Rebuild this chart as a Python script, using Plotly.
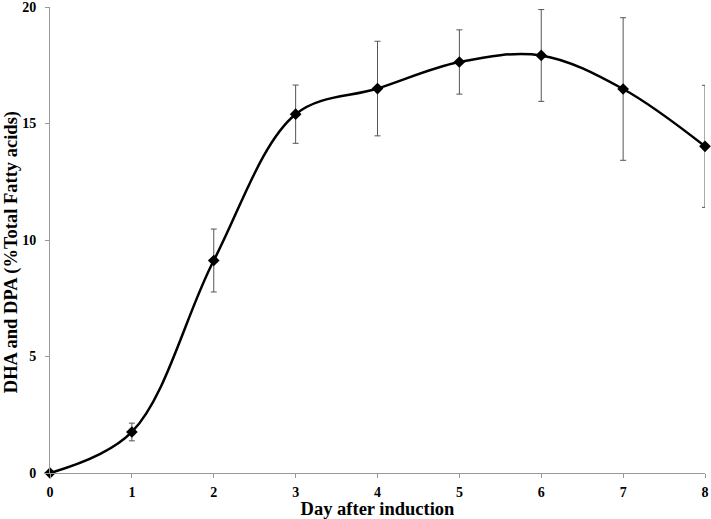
import plotly.graph_objects as go

days = [0, 1, 2, 3, 4, 5, 6, 7, 8]
dha_dpa = [0.0, 1.76, 9.12, 15.4, 16.5, 17.64, 17.92, 16.48, 14.02]
err = [0.0, 0.38, 1.35, 1.25, 2.03, 1.38, 1.97, 3.06, 2.62]
x_ticks = [0, 1, 2, 3, 4, 5, 6, 7, 8]
y_ticks = [0, 5, 10, 15, 20]
y_title = "DHA and DPA (%Total Fatty acids)"
x_title = "Day after induction"

font_family = "Liberation Serif, Times New Roman, serif"

fig = go.Figure()
fig.add_trace(go.Scatter(
    x=days, y=dha_dpa,
    mode="lines+markers",
    line=dict(color="black", width=2.5, shape="spline", smoothing=1.0),
    marker=dict(symbol="diamond", size=9, color="black"),
    error_y=dict(type="data", array=err, visible=True, color="#555555", thickness=1, width=3),
    showlegend=False,
    cliponaxis=False,
))

fig.update_layout(
    width=711, height=519,
    margin=dict(l=50, r=6, t=7, b=46, autoexpand=False),
    paper_bgcolor="white", plot_bgcolor="white",
    font=dict(family=font_family, color="black"),
)
fig.add_annotation(
    text="<b>" + y_title + "</b>", textangle=-90,
    xref="paper", yref="paper", x=-0.0595, y=0.474,
    xanchor="center", yanchor="middle", showarrow=False,
    font=dict(family=font_family, size=18.5, color="black"),
)
fig.update_xaxes(
    range=[0, 8], tickvals=x_ticks, showgrid=False, zeroline=False,
    showline=True, linecolor="#999999", linewidth=1,
    ticks="outside", tickcolor="#999999", ticklen=4,
    tickfont=dict(family=font_family, size=14, color="black", weight="bold"),
    ticklabeloverflow="allow", ticklabelstandoff=2,
    title=dict(text="<b>" + x_title + "</b>", font=dict(family=font_family, size=18.5), standoff=0),
    automargin=False,
)
fig.update_yaxes(
    range=[0, 20], tickvals=y_ticks, showgrid=False, zeroline=False,
    showline=True, linecolor="#999999", linewidth=1,
    ticks="outside", tickcolor="#999999", ticklen=4,
    tickfont=dict(family=font_family, size=14, color="black", weight="bold"),
    ticklabeloverflow="allow", ticklabelstandoff=6,
    automargin=False,
)

fig.write_html("out.html", config={"displayModeBar": False},
               post_script="document.body.style.margin='0';")
